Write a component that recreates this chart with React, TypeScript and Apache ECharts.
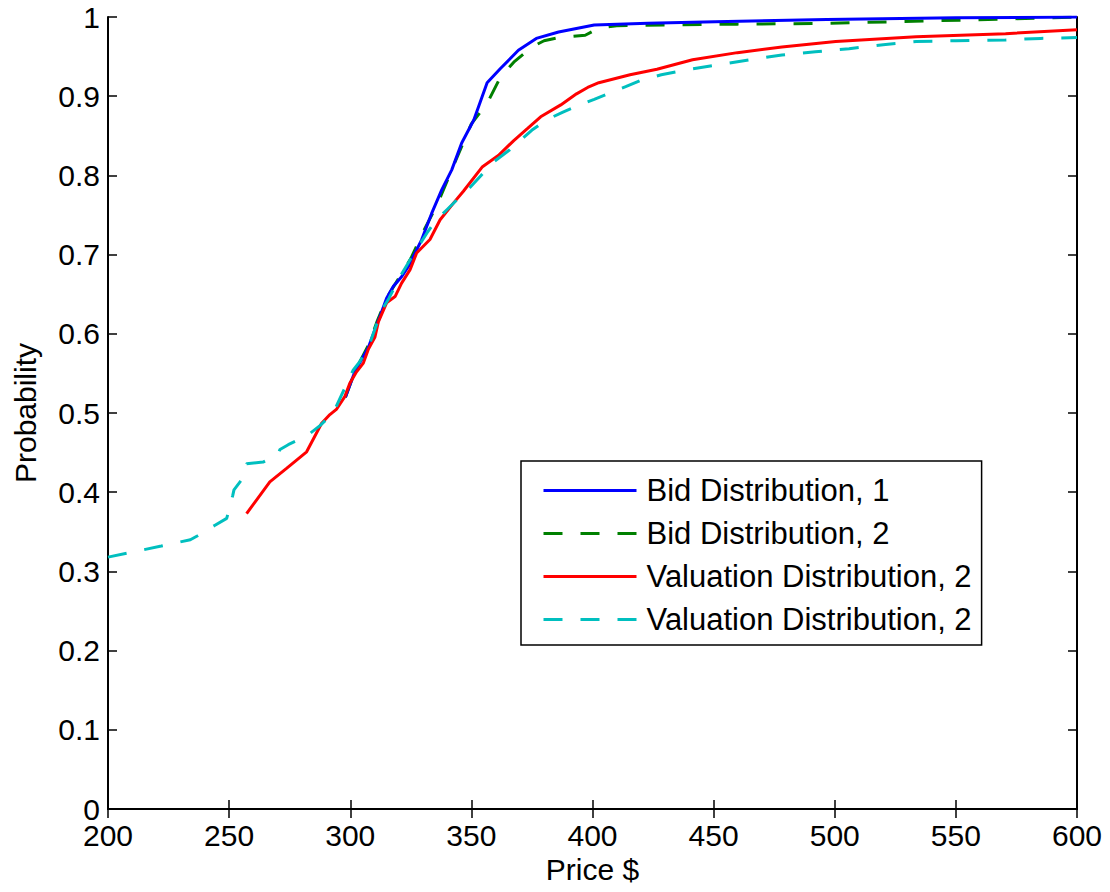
import React, { useEffect, useRef } from "react";
import * as echarts from "echarts";

const bid1X = [298, 302, 307.4, 310.9, 312.3, 315, 317.8, 321.2, 324, 329.5, 333.6, 337.8, 341.9, 346, 351, 356.5, 362, 369.4, 376.8, 386, 400.7, 422.9, 450.6, 496.7, 550, 600];
const bid1Y = [0.52, 0.553, 0.582, 0.611, 0.622, 0.645, 0.66, 0.672, 0.685, 0.719, 0.752, 0.782, 0.807, 0.841, 0.87, 0.917, 0.935, 0.958, 0.973, 0.981, 0.99, 0.992, 0.994, 0.997, 0.999, 1.0];

const bid2X = [298, 302, 307.4, 311, 315, 318, 321, 325, 330, 336, 343, 350, 356.5, 362, 367.5, 374.9, 380, 386, 397, 402.6, 410, 459.8, 496.7, 552, 600];
const bid2Y = [0.52, 0.553, 0.585, 0.615, 0.645, 0.66, 0.675, 0.695, 0.728, 0.764, 0.815, 0.865, 0.891, 0.924, 0.943, 0.962, 0.97, 0.974, 0.977, 0.986, 0.989, 0.991, 0.992, 0.996, 1.0];

const val2aX = [257.2, 266.8, 273.7, 282, 288.2, 291.6, 294.4, 297.8, 299.9, 302.6, 305.4, 307.4, 310.2, 311.6, 315, 318.5, 321.2, 324.7, 327.4, 332.9, 337.1, 342.6, 346.7, 354.6, 361.1, 367.5, 373.1, 378.6, 386.9, 393.4, 398, 402.6, 415.5, 426.6, 441.3, 459.8, 478.2, 500.4, 533.6, 570.5, 600];
const val2aY = [0.373, 0.413, 0.43, 0.451, 0.487, 0.498, 0.505, 0.521, 0.538, 0.552, 0.563, 0.58, 0.596, 0.615, 0.639, 0.647, 0.664, 0.681, 0.702, 0.719, 0.744, 0.765, 0.78, 0.811, 0.825, 0.844, 0.859, 0.874, 0.889, 0.903, 0.911, 0.917, 0.927, 0.934, 0.946, 0.955, 0.962, 0.969, 0.975, 0.979, 0.984];

const val2bX = [200, 222, 234, 237, 244, 249, 251.5, 252, 255, 257.2, 264, 270, 271, 274.4, 282, 287.5, 293, 296, 301.2, 304, 308.1, 313, 316, 320.5, 326, 331.6, 335, 340, 345, 349.5, 354, 358.3, 365.7, 374.9, 381, 387.8, 394, 400.7, 406.3, 413.7, 420, 428.4, 440, 450.6, 465, 478.2, 492, 505.9, 520, 533.6, 550, 570.5, 585, 600];
const val2bY = [0.318, 0.332, 0.34, 0.345, 0.358, 0.367, 0.396, 0.403, 0.415, 0.436, 0.438, 0.447, 0.454, 0.46, 0.471, 0.484, 0.5, 0.52, 0.554, 0.565, 0.588, 0.63, 0.645, 0.672, 0.7, 0.727, 0.742, 0.757, 0.772, 0.785, 0.8, 0.815, 0.832, 0.857, 0.87, 0.88, 0.888, 0.896, 0.903, 0.912, 0.92, 0.927, 0.934, 0.939, 0.946, 0.952, 0.956, 0.96, 0.965, 0.969, 0.97, 0.971, 0.973, 0.974];

const seriesNames = ["Bid Distribution, 1", "Bid Distribution, 2", "Valuation Distribution, 2", "Valuation Distribution, 2 "];

const zip = (xs: number[], ys: number[]) => xs.map((x, i) => [x, ys[i]]);

const FONT = "Liberation Sans, Arial, sans-serif";
const FS = 30;
const LEGEND_FS = 31;

export default function App() {
  const ref = useRef<HTMLDivElement>(null);
  useEffect(() => {
    const chart = echarts.init(ref.current!, null, { renderer: "svg" });
    const dash = [19, 18];
    const axisLine = { show: true, lineStyle: { color: "#000", width: 2 } };
    const tick = { show: true, inside: true, length: 9, lineStyle: { color: "#000", width: 1.5 } };
    chart.setOption({
      animation: false,
      backgroundColor: "#fff",
      textStyle: { fontFamily: FONT },
      grid: { left: 108, right: 33, top: 17, bottom: 83, containLabel: false },
      legend: {
        show: true,
        orient: "vertical",
        left: 521,
        top: 461,
        padding: [14, 10, 10, 21],
        itemWidth: 93,
        itemHeight: 31,
        itemGap: 12,
        borderColor: "#000",
        borderWidth: 1.5,
        backgroundColor: "#fff",
        data: seriesNames,
        itemStyle: { opacity: 0 },
        lineStyle: { width: 3 },
        formatter: (n: string) => n.trim(),
        textStyle: { fontFamily: FONT, fontSize: LEGEND_FS, lineHeight: 31, color: "#000", padding: [0, 0, 0, 5] },
      },
      xAxis: [
        {
          type: "value",
          min: 200,
          max: 600,
          interval: 50,
          position: "bottom",
          name: "Price $",
          nameLocation: "middle",
          nameGap: 43,
          nameTextStyle: { fontFamily: FONT, fontSize: FS, color: "#000" },
          axisLine,
          axisTick: tick,
          axisLabel: { fontFamily: FONT, fontSize: FS, lineHeight: 24, color: "#000", margin: 14 },
          splitLine: { show: false },
        },
        {
          type: "value",
          min: 200,
          max: 600,
          interval: 50,
          position: "top",
          axisLine,
          axisTick: tick,
          axisLabel: { show: false },
          splitLine: { show: false },
        },
      ],
      yAxis: [
        {
          type: "value",
          min: 0,
          max: 1,
          interval: 0.1,
          position: "left",
          name: "Probability",
          nameLocation: "middle",
          nameGap: 68,
          nameTextStyle: { fontFamily: FONT, fontSize: FS, color: "#000" },
          axisLine,
          axisTick: tick,
          axisLabel: {
            fontFamily: FONT,
            fontSize: FS,
            lineHeight: 22,
            color: "#000",
            margin: 8,
            formatter: (v: number) => String(Math.round(v * 10) / 10),
          },
          splitLine: { show: false },
        },
        {
          type: "value",
          min: 0,
          max: 1,
          interval: 0.1,
          position: "right",
          axisLine,
          axisTick: tick,
          axisLabel: { show: false },
          splitLine: { show: false },
        },
      ],
      series: [
        {
          name: seriesNames[0],
          type: "line",
          data: zip(bid1X, bid1Y),
          showSymbol: false,
          symbol: "none",
          lineStyle: { color: "#0000ff", width: 3 },
          itemStyle: { color: "#0000ff" },
          z: 3,
        },
        {
          name: seriesNames[1],
          type: "line",
          data: zip(bid2X, bid2Y),
          showSymbol: false,
          symbol: "none",
          lineStyle: { color: "#008000", width: 3, type: dash },
          itemStyle: { color: "#008000" },
          z: 2,
        },
        {
          name: seriesNames[2],
          type: "line",
          data: zip(val2aX, val2aY),
          showSymbol: false,
          symbol: "none",
          lineStyle: { color: "#ff0000", width: 3 },
          itemStyle: { color: "#ff0000" },
          z: 4,
        },
        {
          name: seriesNames[3],
          type: "line",
          data: zip(val2bX, val2bY),
          showSymbol: false,
          symbol: "none",
          lineStyle: { color: "#00bfbf", width: 3, type: dash },
          itemStyle: { color: "#00bfbf" },
          z: 5,
        },
      ],
    });
    return () => chart.dispose();
  }, []);
  return (
    <div
      ref={ref}
      style={{ position: "absolute", left: 0, top: 0, width: 1110, height: 892 }}
    />
  );
}
